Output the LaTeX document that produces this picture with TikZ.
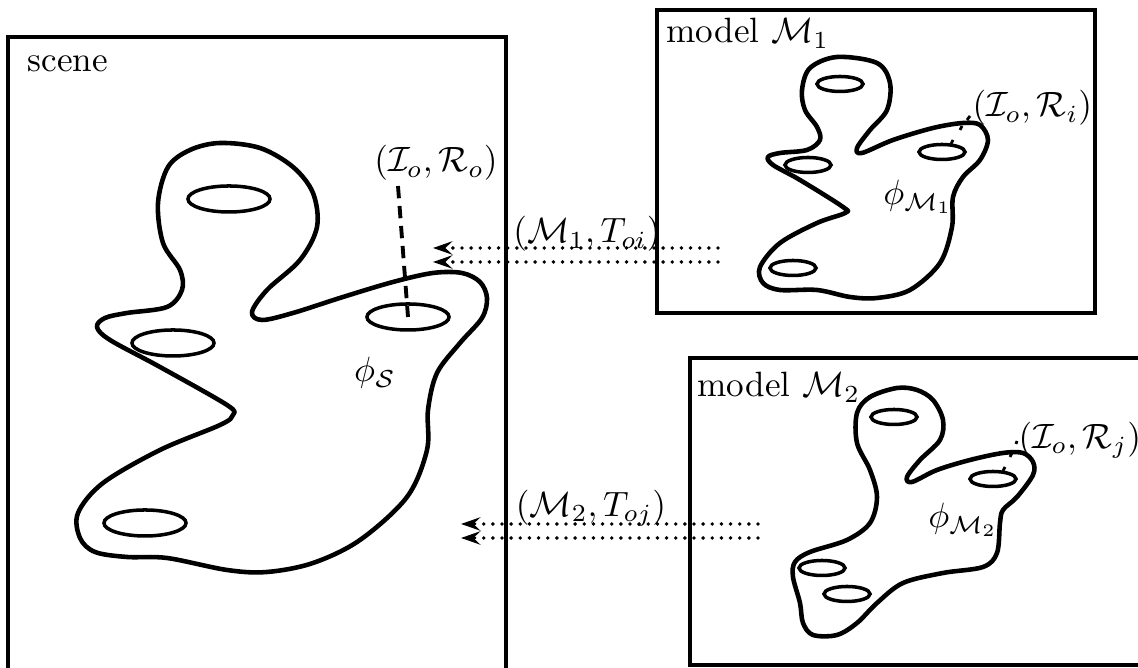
\documentclass[tikz,border=0pt]{standalone}
\usetikzlibrary{shapes.geometric,arrows.meta}

\begin{document}
\begin{tikzpicture}[
    x=0.01cm, y=-0.01cm,
    frame/.style={line width=0.9pt},
    blob/.style={line width=1.3pt, line join=round},
    hole/.style={ellipse, draw, line width=1pt, inner sep=0pt},
    bighole/.style={hole, minimum width=8.2mm, minimum height=2.6mm},
    smallhole/.style={hole, minimum width=4.6mm, minimum height=1.5mm},
    lbl/.style={inner sep=0pt},
    link/.style={line width=1.1pt, dash pattern=on 0pt off 2.6pt, line cap=round,
        -{Stealth[length=5.5pt, width=3.8pt, inset=2pt]}},
    marker/.style={line width=0.8pt},
]
\useasboundingbox (0,0) rectangle (1138,668);

% Three frames
\draw[frame] (8,37) rectangle (506,720);
\draw[frame] (657,10) rectangle (1095,313);
\draw[frame] (690,358) rectangle (1160,665);

\node[lbl, anchor=base west] (scn) at (27,72) {scene};
\node[lbl, anchor=base west] (mA) at (666,43) {model $\mathcal{M}_1$};
\node[lbl, anchor=base west] (mB) at (697,397) {model $\mathcal{M}_2$};

% Scene object
\draw[blob] plot[smooth cycle, tension=0.55] coordinates {
    (220,143) (260,148) (293,167) (313,193) (317,227) (300,260) (267,290)
    (252,312) (262,320) (293,313) (343,297) (393,282) (433,273) (462,273)
    (480,282) (487,298) (482,318) (460,343) (437,373) (428,410) (427,450)
    (407,497) (360,540) (313,563) (267,572) (227,570) (167,558) (127,557)
    (95,552) (80,538) (78,513) (103,483) (160,450) (220,425) (233,415)
    (227,405) (160,367) (110,340) (97,327) (105,318) (127,313) (167,307)
    (182,290) (180,270) (163,243) (158,203) (168,167) (190,150)};
\node[bighole] (sTop) at (229,199) {};
\node[bighole] (sLeft) at (173,343) {};
\node[bighole] (sRight) at (408,317) {};
\node[bighole] (sBot) at (145,523) {};
\node (phiS) at (375,373) {$\phi_{\mathcal{S}}$};
\node[lbl] (ro) at (436,163) {$(\mathcal{I}_o,\mathcal{R}_o)$};
\coordinate (roFoot) at (398,186);
\draw[line width=1.1pt, dash pattern=on 3.5pt off 2.2pt] (roFoot) -- (sRight.center);

% Model 1
\draw[blob] plot[smooth cycle, tension=0.55] coordinates {
    (837,57) (877,63) (890,83) (887,110) (870,130) (857,148) (862,153)
    (893,140) (933,128) (963,123) (980,125) (988,140) (980,160) (963,177)
    (953,197) (952,227) (940,263) (910,290) (877,298) (850,297) (817,290)
    (780,290) (763,283) (760,267) (780,243) (817,223) (845,213) (843,207)
    (800,180) (773,165) (768,157) (780,153) (807,150) (820,140) (817,127)
    (805,110) (802,90) (810,68)};
\node[smallhole] (aTop) at (840,84) {};
\node[smallhole] (aLeft) at (808,165) {};
\node[smallhole] (aRight) at (942,152) {};
\node[smallhole] (aBot) at (793,268) {};
\node (phiA) at (918,197) {$\phi_{\mathcal{M}_1}$};
\node[lbl, anchor=west] (ri) at (972,108) {$(\mathcal{I}_o,\mathcal{R}_i)$};
\coordinate (ri1) at (970,116);
\coordinate (ri2) at (962,126);
\coordinate (ri3) at (953,140);
\draw[marker] (ri1) -- ++(-3,4) (ri2) -- ++(-2,4) (ri3) -- ++(-2,4);

% Model 2
\draw[blob] plot[smooth cycle, tension=0.55] coordinates {
    (897,388) (917,390) (933,400) (943,420) (940,440) (920,460) (907,477)
    (912,482) (937,470) (970,460) (1003,453) (1023,453) (1033,462) (1033,475)
    (1017,497) (1003,510) (1000,523) (997,553) (983,567) (943,573) (903,583)
    (877,603) (857,623) (837,635) (813,635) (803,623) (800,603) (793,577)
    (795,562) (810,552) (847,540) (870,523) (877,497) (870,470) (857,443)
    (857,413) (870,397)};
\node[smallhole] (bTop) at (894,417) {};
\node[smallhole] (bRight) at (993,479) {};
\node[smallhole] (bLeft) at (822,568) {};
\node[smallhole] (bBot) at (847,594) {};
\node (phiB) at (963,520) {$\phi_{\mathcal{M}_2}$};
\node[lbl, anchor=west] (rj) at (1018,440) {$(\mathcal{I}_o,\mathcal{R}_j)$};
\coordinate (rj1) at (1017,441);
\coordinate (rj2) at (1012,453);
\coordinate (rj3) at (1005,467);
\draw[marker] (rj1) -- ++(-1,3) (rj2) -- ++(-2,4) (rj3) -- ++(-2,4);

% Matches back to the scene
\coordinate (fromA1) at (718,248);
\coordinate (fromA2) at (718,262);
\coordinate (toA1) at (433,248);
\coordinate (toA2) at (433,262);
\draw[link] (fromA1) -- (toA1);
\draw[link] (fromA2) -- (toA2);
\node (matchA) at (587,234) {$(\mathcal{M}_1,T_{oi})$};

\coordinate (fromB1) at (758,524);
\coordinate (fromB2) at (758,538);
\coordinate (toB1) at (461,524);
\coordinate (toB2) at (461,538);
\draw[link] (fromB1) -- (toB1);
\draw[link] (fromB2) -- (toB2);
\node (matchB) at (591,508) {$(\mathcal{M}_2,T_{oj})$};

\end{tikzpicture}
\end{document}
